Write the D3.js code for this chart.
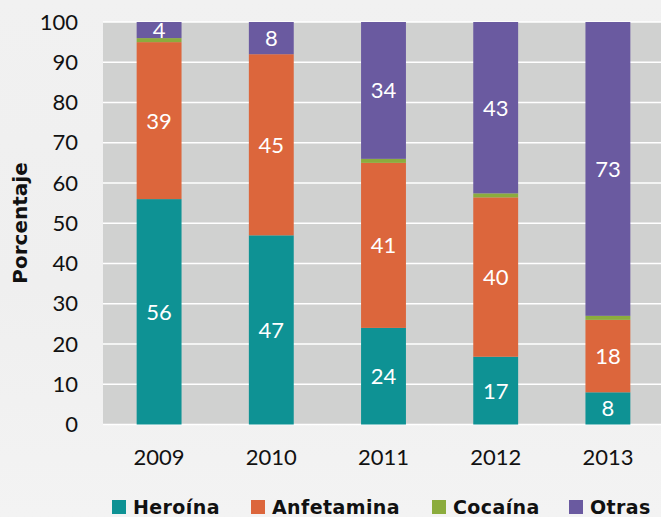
<!DOCTYPE html>
<html>
<head>
<meta charset="utf-8">
<script src="https://cdn.jsdelivr.net/npm/d3@7"></script>
<style>
  html, body { margin: 0; padding: 0; background: #f0f0f0; }
  svg { display: block; font-family: Lato, "Open Sans", sans-serif; }
</style>
</head>
<body>
<svg id="chart" width="661" height="517"></svg>
<script>
// data (100% stacked, labels are the raw values)
const years = ['2009', '2010', '2011', '2012', '2013'];
const series = ['Heroína', 'Anfetamina', 'Cocaína', 'Otras'];
const heroina = [56, 47, 24, 17, 8];
const anfetamina = [39, 45, 41, 40, 18];
const cocaina = [1, 0, 1, 1, 1];
const otras = [4, 8, 34, 43, 73];
const yTicks = [0, 10, 20, 30, 40, 50, 60, 70, 80, 90, 100];
const colors = ['#0e9294', '#dc663c', '#8bac3d', '#6a5aa0'];

const rows = years.map((y, i) => ({
  year: y,
  'Heroína': heroina[i],
  'Anfetamina': anfetamina[i],
  'Cocaína': cocaina[i],
  'Otras': otras[i]
}));

const svg = d3.select('#chart');
const W = 661, H = 517;

// faint texture in the lower part of the background
const defs = svg.append('defs');
const grad = defs.append('linearGradient').attr('id', 'bg').attr('x1', 0).attr('y1', 0).attr('x2', 0).attr('y2', 1);
grad.append('stop').attr('offset', '0%').attr('stop-color', '#f1f1f1');
grad.append('stop').attr('offset', '55%').attr('stop-color', '#efefef');
grad.append('stop').attr('offset', '100%').attr('stop-color', '#f3f3f3');
svg.append('rect').attr('width', W).attr('height', H).attr('fill', 'url(#bg)');

const plot = { left: 103, right: 664, top: 22, bottom: 424.5 };

const x = d3.scaleBand()
  .domain(years)
  .range([plot.left, plot.right])
  .paddingInner(0.6)
  .paddingOuter(0.3);

const y = d3.scaleLinear()
  .domain([0, 100])
  .range([plot.bottom, plot.top]);

svg.append('rect')
  .attr('x', plot.left)
  .attr('y', plot.top)
  .attr('width', plot.right - plot.left)
  .attr('height', plot.bottom - plot.top)
  .attr('fill', '#d0d1d0');

// gridlines
svg.append('g')
  .selectAll('line')
  .data(yTicks)
  .join('line')
  .attr('x1', plot.left)
  .attr('x2', plot.right)
  .attr('y1', d => y(d))
  .attr('y2', d => y(d))
  .attr('stroke', '#ffffff')
  .attr('stroke-width', 1.5);

// y axis
const yAxis = svg.append('g')
  .attr('transform', `translate(${plot.left},0)`)
  .call(d3.axisLeft(y).tickValues(yTicks).tickSize(0).tickPadding(25));
yAxis.select('.domain').remove();
yAxis.selectAll('text')
  .attr('font-size', 22)
  .attr('font-family', 'Lato, sans-serif')
  .attr('fill', '#111');

// x axis
const xAxis = svg.append('g')
  .attr('transform', `translate(0,${plot.bottom})`)
  .call(d3.axisBottom(x).tickSize(0).tickPadding(25));
xAxis.select('.domain').remove();
xAxis.selectAll('text')
  .attr('font-size', 22)
  .attr('font-family', 'Lato, sans-serif')
  .attr('fill', '#111');

svg.append('text')
  .attr('transform', `translate(27,223) rotate(-90)`)
  .attr('text-anchor', 'middle')
  .attr('font-size', 20)
  .attr('font-weight', 'bold')
  .attr('font-family', '"DejaVu Sans", sans-serif')
  .attr('fill', '#111')
  .text('Porcentaje');

// stacked bars
const stack = d3.stack().keys(series).offset(d3.stackOffsetExpand);
const layers = stack(rows);

const g = svg.append('g');
layers.forEach((layer, li) => {
  g.append('g')
    .selectAll('rect')
    .data(layer)
    .join('rect')
    .attr('x', d => x(d.data.year))
    .attr('width', x.bandwidth())
    .attr('y', d => y(d[1] * 100))
    .attr('height', d => y(d[0] * 100) - y(d[1] * 100))
    .attr('fill', colors[li]);

  if (series[li] === 'Cocaína') return;
  g.append('g')
    .selectAll('text')
    .data(layer)
    .join('text')
    .attr('x', d => x(d.data.year) + x.bandwidth() / 2)
    .attr('y', d => y((d[0] + d[1]) / 2 * 100))
    .attr('dy', '0.36em')
    .attr('text-anchor', 'middle')
    .attr('font-size', 22)
    .attr('fill', '#ffffff')
    .text(d => d.data[series[li]]);
});

// legend
const legendX = [112, 251, 432, 569];
const legend = svg.append('g');
series.forEach((s, i) => {
  legend.append('rect')
    .attr('x', legendX[i])
    .attr('y', 500)
    .attr('width', 14)
    .attr('height', 14)
    .attr('fill', colors[i]);
  legend.append('text')
    .attr('x', legendX[i] + 21)
    .attr('y', 514)
    .attr('font-size', 19)
    .attr('letter-spacing', 0.4)
    .attr('font-weight', 'bold')
    .attr('font-family', '"DejaVu Sans", sans-serif')
    .attr('fill', '#111')
    .text(s);
});
</script>
</body>
</html>
